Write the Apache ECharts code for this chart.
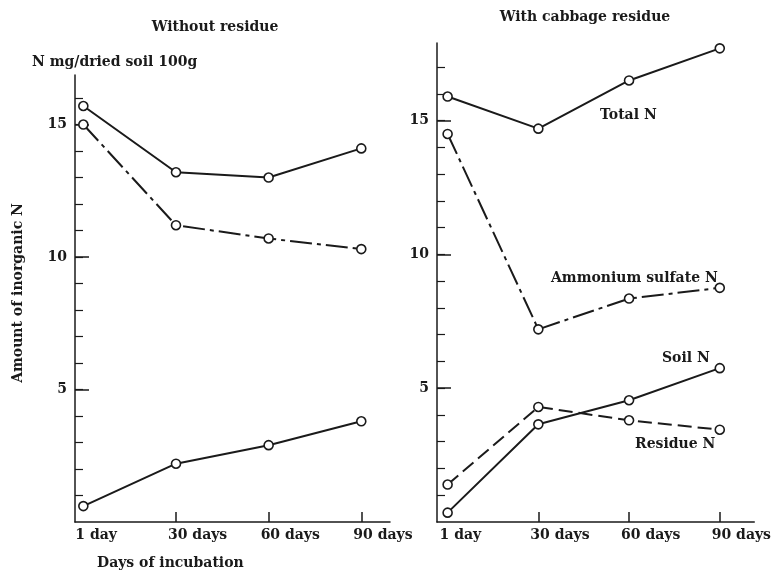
<!DOCTYPE html>
<html>
<head>
<meta charset="utf-8">
<script src="https://cdn.jsdelivr.net/npm/echarts@6/dist/echarts.min.js"></script>
<style>html,body{margin:0;padding:0;background:#fff;}#c{width:774px;height:574px;}</style>
</head>
<body>
<div id="c"></div>
<script>
const categories = ['1 day', '30 days', '60 days', '90 days'];
const leftTotal = [15.7, 13.2, 13.0, 14.1];
const leftAmmonium = [15.0, 11.2, 10.7, 10.3];
const leftSoil = [0.6, 2.2, 2.9, 3.8];
const rightTotal = [15.9, 14.7, 16.5, 17.7];
const rightAmmonium = [14.5, 7.2, 8.35, 8.75];
const rightSoil = [0.35, 3.65, 4.55, 5.75];
const rightResidue = [1.4, 4.3, 3.8, 3.45];
const yLabelTicks = [5, 10, 15];
const yMinorLeft = [1,2,3,4,5,6,7,8,9,10,11,12,13,14,15,16];
const yMinorRight = [1,2,3,4,5,6,7,8,9,10,11,12,13,14,15,16,17];

const FONT = 'DejaVu Serif';
const INK = '#1a1a1a';
const WEIGHT = 'bold';

function pts(arr) { return arr.map((v, i) => [i, v]); }

function xAxis(gridIndex, min, max) {
  return {
    type: 'value', gridIndex, min, max,
    axisLine: { show: true, onZero: false, lineStyle: { color: INK, width: 1.5 } },
    axisTick: { show: true, inside: true, length: 10, customValues: [1, 2, 3], lineStyle: { color: INK, width: 1.5 } },
    axisLabel: {
      customValues: [0, 1, 2, 3], formatter: v => categories[Math.round(v)] || '',
      align: 'left', padding: [0, 0, 0, -8], margin: 6,
      fontFamily: FONT, fontSize: 14, fontWeight: WEIGHT, color: INK
    },
    splitLine: { show: false }
  };
}
function yAxisMain(gridIndex, max, minor) {
  return {
    type: 'value', gridIndex, min: 0, max, position: 'left',
    axisLine: { show: true, onZero: false, lineStyle: { color: INK, width: 1.5 } },
    axisTick: { show: true, inside: true, length: 8, customValues: minor, lineStyle: { color: INK, width: 1.2 } },
    axisLabel: { customValues: yLabelTicks, margin: 8, fontFamily: FONT, fontSize: 14, fontWeight: WEIGHT, color: INK },
    splitLine: { show: false }
  };
}
function yAxisMajor(gridIndex, max) {
  return {
    type: 'value', gridIndex, min: 0, max, position: 'left',
    axisLine: { show: false, onZero: false },
    axisTick: { show: true, inside: true, length: 14, customValues: yLabelTicks, lineStyle: { color: INK, width: 1.5 } },
    axisLabel: { show: false },
    splitLine: { show: false }
  };
}

const DASHDOT = [22, 5, 4, 5];
const DASH = [14, 6];
function line(name, data, xi, yi, type) {
  return {
    name, type: 'line', xAxisIndex: xi, yAxisIndex: yi, data: pts(data),
    symbol: 'circle', symbolSize: 9, showSymbol: true,
    itemStyle: { color: '#fff', borderColor: INK, borderWidth: 1.6 },
    lineStyle: { color: INK, width: 2, type: type },
    z: 3
  };
}

const txt = (text, x, y, extra) => Object.assign({
  type: 'text', x, y,
  style: Object.assign({ text, fontFamily: FONT, fontSize: 14, fontWeight: WEIGHT, fill: INK, textAlign: 'left', textVerticalAlign: 'middle' }, extra || {})
});

const chart = echarts.init(document.getElementById('c'), null, { renderer: 'canvas' });
chart.setOption({
  backgroundColor: '#fff',
  animation: false,
  grid: [
    { left: 75, top: 75, width: 315, bottom: 52 },
    { left: 437, top: 43, right: 16, bottom: 52 }
  ],
  xAxis: [xAxis(0, -0.09, 3.31), xAxis(1, -0.117, 3.38)],
  yAxis: [yAxisMain(0, 16.87, yMinorLeft), yAxisMajor(0, 16.87), yAxisMain(1, 17.9, yMinorRight), yAxisMajor(1, 17.9)],
  series: [
    line('Total N', leftTotal, 0, 0, 'solid'),
    line('Ammonium sulfate N', leftAmmonium, 0, 0, DASHDOT),
    line('Soil N', leftSoil, 0, 0, 'solid'),
    line('Total N', rightTotal, 1, 2, 'solid'),
    line('Ammonium sulfate N', rightAmmonium, 1, 2, DASHDOT),
    line('Soil N', rightSoil, 1, 2, 'solid'),
    line('Residue N', rightResidue, 1, 2, DASH)
  ],
  graphic: [
    txt('Without residue', 215, 27, { textAlign: 'center' }),
    txt('With cabbage residue', 585, 17, { textAlign: 'center' }),
    txt('N mg/dried soil 100g', 32, 62),
    txt('Days of incubation', 97, 563),
    { type: 'text', x: 18, y: 293, rotation: Math.PI / 2,
      style: { text: 'Amount of inorganic N', fontFamily: FONT, fontSize: 14, fontWeight: WEIGHT, fill: INK, textAlign: 'center', textVerticalAlign: 'middle' } },
    txt('Total N', 600, 115),
    txt('Ammonium sulfate N', 551, 278),
    txt('Soil N', 662, 358),
    txt('Residue N', 635, 444)
  ]
});
</script>
</body>
</html>
